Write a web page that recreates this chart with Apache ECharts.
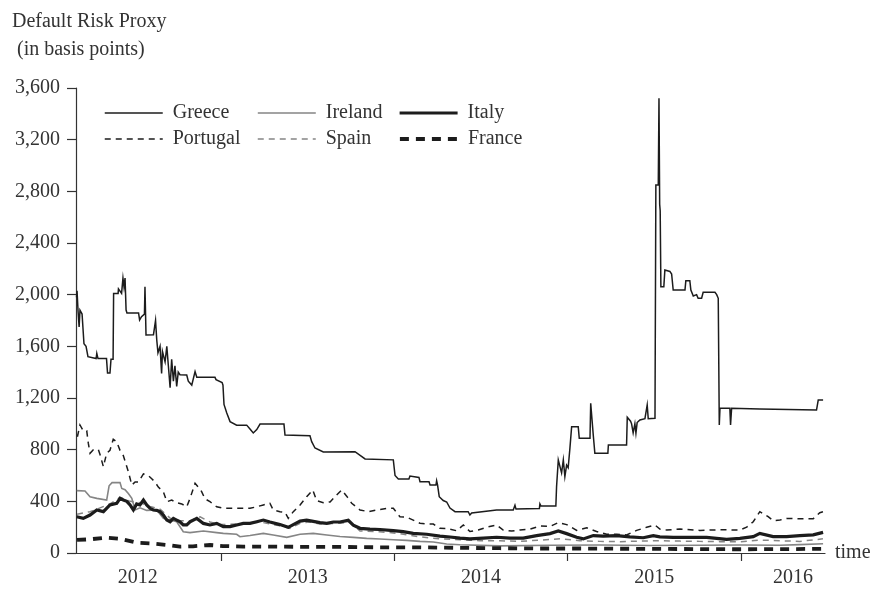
<!DOCTYPE html>
<html>
<head>
<meta charset="utf-8">
<script src="https://cdn.jsdelivr.net/npm/echarts@6/dist/echarts.min.js"></script>
<style>html,body{margin:0;padding:0;background:#fff;}#c{width:877px;height:590px;}</style>
</head>
<body>
<div id="c"></div>
<script>
// ---- data (x in decimal years, y in basis points) ----
const yTicks = [0, 400, 800, 1200, 1600, 2000, 2400, 2800, 3200, 3600];
const yearTicks = [2013, 2014, 2015, 2016];
const yearLabelPos = [2012.52, 2013.5, 2014.5, 2015.5, 2016.3];

const greeceYears = [2012.166,2012.169,2012.175,2012.181,2012.186,2012.198,2012.207,2012.209,2012.221,2012.232,2012.279,2012.283,2012.290,2012.339,2012.345,2012.359,2012.365,2012.377,2012.380,2012.406,2012.408,2012.426,2012.434,2012.440,2012.446,2012.452,2012.457,2012.524,2012.530,2012.541,2012.558,2012.561,2012.567,2012.610,2012.622,2012.629,2012.636,2012.648,2012.657,2012.662,2012.677,2012.687,2012.696,2012.706,2012.715,2012.725,2012.734,2012.744,2012.753,2012.763,2012.802,2012.811,2012.831,2012.850,2012.860,2012.965,2012.971,2013.006,2013.011,2013.017,2013.033,2013.052,2013.090,2013.148,2013.167,2013.186,2013.206,2013.225,2013.363,2013.369,2013.513,2013.523,2013.542,2013.590,2013.773,2013.783,2013.831,2013.836,2013.994,2014.004,2014.023,2014.084,2014.090,2014.100,2014.142,2014.148,2014.200,2014.206,2014.240,2014.244,2014.249,2014.259,2014.282,2014.302,2014.321,2014.350,2014.426,2014.436,2014.446,2014.455,2014.590,2014.686,2014.696,2014.702,2014.837,2014.840,2014.846,2014.932,2014.936,2014.946,2014.965,2014.975,2014.984,2014.994,2015.003,2015.013,2015.023,2015.061,2015.067,2015.129,2015.133,2015.138,2015.148,2015.157,2015.232,2015.235,2015.340,2015.344,2015.363,2015.369,2015.378,2015.388,2015.394,2015.401,2015.417,2015.446,2015.459,2015.465,2015.504,2015.509,2015.523,2015.527,2015.531,2015.534,2015.538,2015.555,2015.561,2015.590,2015.600,2015.609,2015.677,2015.682,2015.705,2015.711,2015.725,2015.744,2015.753,2015.773,2015.782,2015.850,2015.860,2015.869,2015.875,2015.879,2015.936,2015.940,2015.946,2016.109,2016.115,2016.436,2016.446,2016.474];
const greeceValues = [1980,2030,1870,1750,1880,1850,1860,1620,1600,1520,1505,1545,1505,1505,1393,1393,1500,1500,2010,2010,2045,2010,2128,2060,2128,1881,1858,1858,1804,1830,1850,2062,1688,1690,1800,1649,1550,1600,1390,1560,1480,1600,1450,1280,1500,1330,1450,1290,1400,1380,1378,1330,1300,1404,1360,1360,1342,1320,1300,1150,1084,1017,990,990,960,929,955,998,998,913,907,862,813,782,784,770,728,721,721,600,573,573,596,585,585,552,552,526,526,560,530,436,406,395,348,320,320,294,310,322,333,333,370,340,345,380,364,364,513,720,620,720,591,680,660,810,978,978,888,888,1159,1159,910,772,772,836,836,1051,1020,1000,930,1000,928,1010,1030,1040,1146,1040,1043,2849,2849,3520,2700,2650,2062,2062,2191,2180,2160,2036,2036,2108,2108,2036,1990,2000,1972,1972,2018,2018,2000,1972,991,1120,1120,991,1120,1115,1107,1107,1184,1184];

const irelandYears = [2012.167,2012.215,2012.244,2012.283,2012.340,2012.354,2012.371,2012.417,2012.427,2012.446,2012.465,2012.485,2012.504,2012.532,2012.571,2012.629,2012.667,2012.706,2012.744,2012.782,2012.821,2012.898,2012.975,2013.013,2013.090,2013.109,2013.167,2013.244,2013.301,2013.379,2013.456,2013.532,2013.610,2013.686,2013.763,2013.840,2013.917,2013.994,2014.071,2014.148,2014.225,2014.302,2014.379,2014.609,2014.898,2015.186,2015.475,2015.763,2015.994,2016.225,2016.340,2016.474];
const irelandValues = [483,480,436,423,410,520,545,545,500,490,460,423,333,350,330,333,268,255,242,165,158,170,158,152,145,126,135,152,139,121,145,152,139,128,121,113,108,103,98,90,85,70,64,55,60,62,58,60,62,60,65,72];

const italyYears = [2012.167,2012.205,2012.244,2012.283,2012.321,2012.359,2012.398,2012.417,2012.436,2012.456,2012.475,2012.494,2012.513,2012.532,2012.552,2012.571,2012.590,2012.609,2012.629,2012.648,2012.667,2012.687,2012.706,2012.725,2012.744,2012.763,2012.782,2012.802,2012.821,2012.860,2012.898,2012.936,2012.975,2013.013,2013.052,2013.090,2013.128,2013.167,2013.206,2013.244,2013.282,2013.340,2013.388,2013.417,2013.456,2013.494,2013.532,2013.571,2013.610,2013.648,2013.686,2013.734,2013.763,2013.802,2013.859,2013.917,2013.994,2014.051,2014.109,2014.187,2014.263,2014.321,2014.379,2014.436,2014.513,2014.590,2014.667,2014.744,2014.821,2014.898,2014.946,2014.994,2015.052,2015.090,2015.148,2015.205,2015.283,2015.359,2015.436,2015.494,2015.532,2015.609,2015.802,2015.917,2015.994,2016.071,2016.109,2016.186,2016.263,2016.340,2016.417,2016.474];
const italyValues = [281,268,294,333,320,372,385,423,410,400,372,333,380,372,410,372,346,333,330,320,294,255,242,268,255,242,217,217,242,268,229,217,229,204,204,217,229,229,242,255,240,220,199,220,247,255,245,235,230,240,240,253,215,191,185,182,173,165,152,145,131,124,115,109,115,122,115,115,135,150,170,150,122,109,135,130,135,125,118,134,125,121,121,106,113,127,152,127,127,134,140,160];

const portugalYears = [2012.171,2012.186,2012.205,2012.225,2012.234,2012.244,2012.263,2012.292,2012.302,2012.321,2012.331,2012.340,2012.359,2012.378,2012.398,2012.417,2012.436,2012.465,2012.485,2012.504,2012.523,2012.552,2012.580,2012.600,2012.619,2012.638,2012.667,2012.687,2012.715,2012.744,2012.773,2012.802,2012.821,2012.850,2012.869,2012.888,2012.907,2012.936,2012.975,2013.013,2013.167,2013.206,2013.244,2013.282,2013.301,2013.340,2013.369,2013.388,2013.417,2013.456,2013.494,2013.529,2013.552,2013.590,2013.629,2013.667,2013.696,2013.725,2013.754,2013.802,2013.850,2013.898,2013.956,2013.994,2014.032,2014.071,2014.109,2014.148,2014.187,2014.225,2014.263,2014.302,2014.360,2014.398,2014.436,2014.484,2014.533,2014.590,2014.628,2014.677,2014.725,2014.782,2014.840,2014.898,2014.946,2014.994,2015.052,2015.110,2015.167,2015.225,2015.283,2015.340,2015.398,2015.456,2015.504,2015.532,2015.571,2015.648,2015.763,2015.879,2015.994,2016.033,2016.071,2016.109,2016.157,2016.186,2016.225,2016.263,2016.340,2016.417,2016.455,2016.474];
const portugalValues = [900,991,946,946,850,772,800,800,760,668,668,772,795,880,860,795,755,630,526,550,550,612,600,575,550,510,475,397,410,390,380,358,423,540,510,475,420,397,358,346,346,358,372,385,333,320,315,268,320,372,436,488,405,390,395,449,488,440,385,333,320,333,346,346,281,278,255,230,224,224,191,190,172,217,166,178,200,217,178,170,178,185,209,205,235,220,175,195,166,145,145,140,175,199,217,185,178,185,175,180,178,200,242,320,281,250,255,268,265,265,312,320];

const spainYears = [2012.169,2012.244,2012.284,2012.359,2012.417,2012.475,2012.532,2012.590,2012.648,2012.706,2012.763,2012.821,2012.879,2012.936,2012.994,2013.109,2013.225,2013.340,2013.398,2013.456,2013.513,2013.571,2013.686,2013.744,2013.802,2013.917,2014.032,2014.148,2014.263,2014.379,2014.494,2014.609,2014.725,2014.840,2014.956,2015.071,2015.186,2015.302,2015.417,2015.532,2015.648,2015.763,2015.879,2015.994,2016.109,2016.225,2016.340,2016.473];
const spainValues = [300,320,340,380,430,400,390,360,340,270,250,250,280,240,220,225,240,210,190,230,240,225,230,240,170,165,150,125,110,103,95,95,90,100,110,95,90,88,92,95,92,90,88,86,100,95,90,110];

const franceYears = [2012.169,2012.244,2012.336,2012.417,2012.515,2012.590,2012.688,2012.763,2012.838,2012.936,2013.011,2013.127,2013.225,2013.456,2013.686,2013.917,2014.148,2014.379,2014.609,2014.840,2015.071,2015.302,2015.532,2015.763,2015.994,2016.225,2016.473];
const franceValues = [101,106,119,110,80,75,62,49,52,62,54,49,50,48,47,44,44,40,37,35,35,33,32,30,29,30,32];

const countries = ['Greece', 'Ireland', 'Italy', 'Portugal', 'Spain', 'France'];

// ---- chart ----
const zip = (xs, ys) => xs.map((x, i) => [x, ys[i]]);
const FONT = 'Liberation Serif';
const FS = 20;
const DARK = '#1c1c1c';
const GRAY = '#858585';

const styles = {
  Greece:   { color: DARK, width: 1.5, type: 'solid' },
  Ireland:  { color: GRAY, width: 1.6, type: 'solid' },
  Italy:    { color: DARK, width: 3.2, type: 'solid' },
  Portugal: { color: DARK, width: 1.5, type: [6, 5] },
  Spain:    { color: GRAY, width: 1.5, type: [6, 5] },
  France:   { color: DARK, width: 3.8, type: [9, 7] }
};
const dataMap = {
  Greece: zip(greeceYears, greeceValues),
  Ireland: zip(irelandYears, irelandValues),
  Italy: zip(italyYears, italyValues),
  Portugal: zip(portugalYears, portugalValues),
  Spain: zip(spainYears, spainValues),
  France: zip(franceYears, franceValues)
};
const drawOrder = ['Greece', 'Portugal', 'Ireland', 'Spain', 'Italy', 'France'];

const legendPos = {
  Greece: [104, 103], Ireland: [257, 103], Italy: [398, 103],
  Portugal: [104, 129], Spain: [257, 129], France: [398, 129]
};

const chart = echarts.init(document.getElementById('c'), null, { renderer: 'canvas' });
chart.setOption({
  animation: false,
  backgroundColor: '#fff',
  title: {
    text: 'Default Risk Proxy\n (in basis points)',
    left: 7, top: 3,
    textStyle: { fontFamily: FONT, fontSize: FS, fontWeight: 'normal', color: '#333', lineHeight: 28 }
  },
  grid: { left: 76, right: 52, top: 88, bottom: 37 },
  legend: countries.map(name => ({
    data: [{ name: name }],
    left: legendPos[name][0], top: legendPos[name][1],
    padding: 0, itemWidth: 58, itemHeight: 20, selectedMode: false,
    itemStyle: { color: 'rgba(0,0,0,0)', borderWidth: 0, borderColor: 'rgba(0,0,0,0)', opacity: 0 },
    lineStyle: { width: styles[name].width, type: styles[name].type, color: styles[name].color },
    textStyle: { fontFamily: FONT, fontSize: FS, color: '#333', lineHeight: 20, padding: [0, 0, 0, 5] }
  })),
  xAxis: {
    type: 'value',
    min: 2012.163, max: 2016.485,
    name: 'time', nameLocation: 'end', nameGap: 10,
    nameTextStyle: { fontFamily: FONT, fontSize: FS, color: '#333', align: 'left', verticalAlign: 'middle', padding: [0, 0, 6, 0] },
    axisLine: { show: true, onZero: false, lineStyle: { color: '#333', width: 1.2 } },
    axisTick: { show: true, length: 8, inside: false, customValues: yearTicks, lineStyle: { color: '#333', width: 1.2 } },
    axisLabel: { customValues: yearLabelPos, formatter: v => String(Math.floor(v)), margin: 15, fontFamily: FONT, fontSize: FS, color: '#333' },
    splitLine: { show: false }
  },
  yAxis: {
    type: 'value', min: 0, max: 3600, interval: 400,
    axisLine: { show: true, lineStyle: { color: '#333', width: 1.2 } },
    axisTick: { show: true, length: 9, inside: false, lineStyle: { color: '#333', width: 1.2 } },
    axisLabel: { margin: 16, fontFamily: FONT, fontSize: FS, color: '#333', formatter: v => v.toLocaleString('en-US') },
    splitLine: { show: false }
  },
  series: drawOrder.map(name => ({
    name: name,
    type: 'line',
    data: dataMap[name],
    symbol: 'none',
    smooth: false,
    lineStyle: { color: styles[name].color, width: styles[name].width, type: styles[name].type, cap: 'butt', join: 'miter' },
    itemStyle: { color: styles[name].color },
    emphasis: { disabled: true },
    z: 2
  }))
});
</script>
</body>
</html>
